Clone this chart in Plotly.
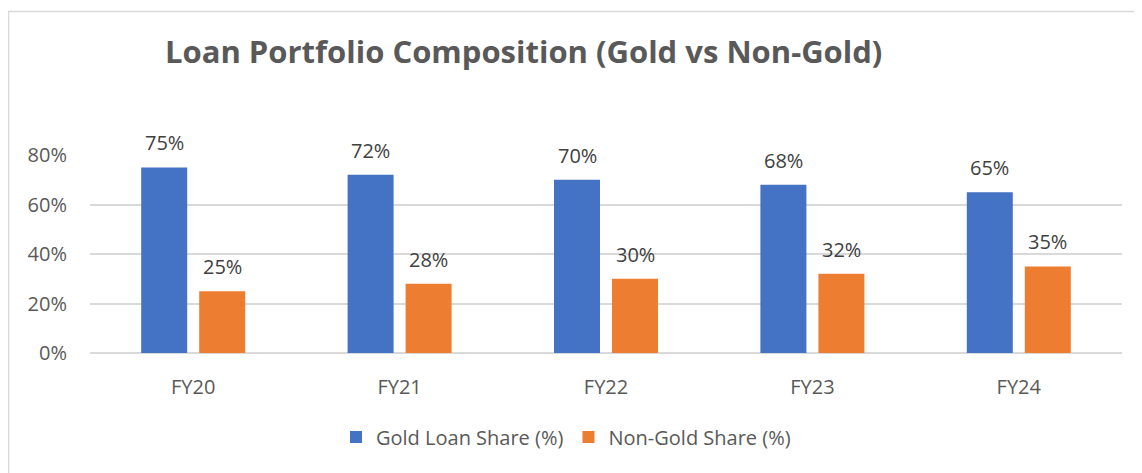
import plotly.graph_objects as go

categories = ["FY20", "FY21", "FY22", "FY23", "FY24"]
gold_share = [0.75, 0.72, 0.70, 0.68, 0.65]
non_gold_share = [0.25, 0.28, 0.30, 0.32, 0.35]
series_names = ["Gold Loan Share (%)", "Non-Gold Share (%)"]
y_ticks = [0, 0.2, 0.4, 0.6, 0.8]
y_tick_labels = ["0%", "20%", "40%", "60%", "80%"]

BLUE = "#4472C4"
ORANGE = "#ED7D31"
TEXT = "#595959"
GRID = "#D9D9D9"
FONT = "Open Sans"

W, H = 1134, 465
L, R, T, B = 82, 20, 147, 120
PW = W - L - R
PH = H - T - B

fig = go.Figure()
fig.add_trace(go.Bar(x=categories, y=gold_share, name=series_names[0],
                     marker=dict(color=BLUE, line=dict(width=0))))
fig.add_trace(go.Bar(x=categories, y=non_gold_share, name=series_names[1],
                     marker=dict(color=ORANGE, line=dict(width=0))))

annotations = []
for vals, shift in ((gold_share, -29), (non_gold_share, 29)):
    for c, v in zip(categories, vals):
        annotations.append(dict(x=c, y=v, xref="x", yref="y", text=f"{round(v*100)}%",
                                showarrow=False, xshift=shift, yanchor="bottom", yshift=9,
                                font=dict(family=FONT, size=20, color="#404040")))

fig.update_layout(
    width=W, height=H,
    margin=dict(l=L, r=R, t=T, b=B),
    paper_bgcolor="white", plot_bgcolor="white",
    barmode="group", bargap=0.438, bargroupgap=0.207,
    title=dict(text="<b>Loan Portfolio Composition (Gold vs Non-Gold)</b>",
               x=157/W, xanchor="left", y=1-44/H, yanchor="middle",
               font=dict(family=FONT, size=31, color=TEXT)),
    font=dict(family=FONT, size=20, color=TEXT),
    showlegend=True,
    legend=dict(orientation="h", x=(558-L)/PW, xanchor="center", y=-84/PH, yanchor="middle",
                font=dict(family=FONT, size=20, color=TEXT), itemwidth=30,
                traceorder="normal"),
    annotations=annotations,
    shapes=[dict(type="rect", xref="paper", yref="paper",
                 x0=(0.5-L)/PW, x1=1.2, y0=-1.0, y1=(PH+T-3.5)/PH,
                 line=dict(color=GRID, width=1.5), fillcolor="rgba(0,0,0,0)", layer="below")],
)
fig.update_yaxes(range=[0, 0.8], tickvals=y_ticks, ticktext=y_tick_labels,
                 showgrid=True, gridcolor=GRID, gridwidth=1.5,
                 zeroline=True, zerolinecolor=GRID, zerolinewidth=1.5,
                 showline=False, ticklabelstandoff=22,
                 tickfont=dict(family=FONT, size=20, color=TEXT))
fig.update_xaxes(showgrid=False, showline=False, ticks="outside", ticklen=16,
                 tickcolor="rgba(0,0,0,0)",
                 tickfont=dict(family=FONT, size=20, color=TEXT))

fig.write_html("out.html")
